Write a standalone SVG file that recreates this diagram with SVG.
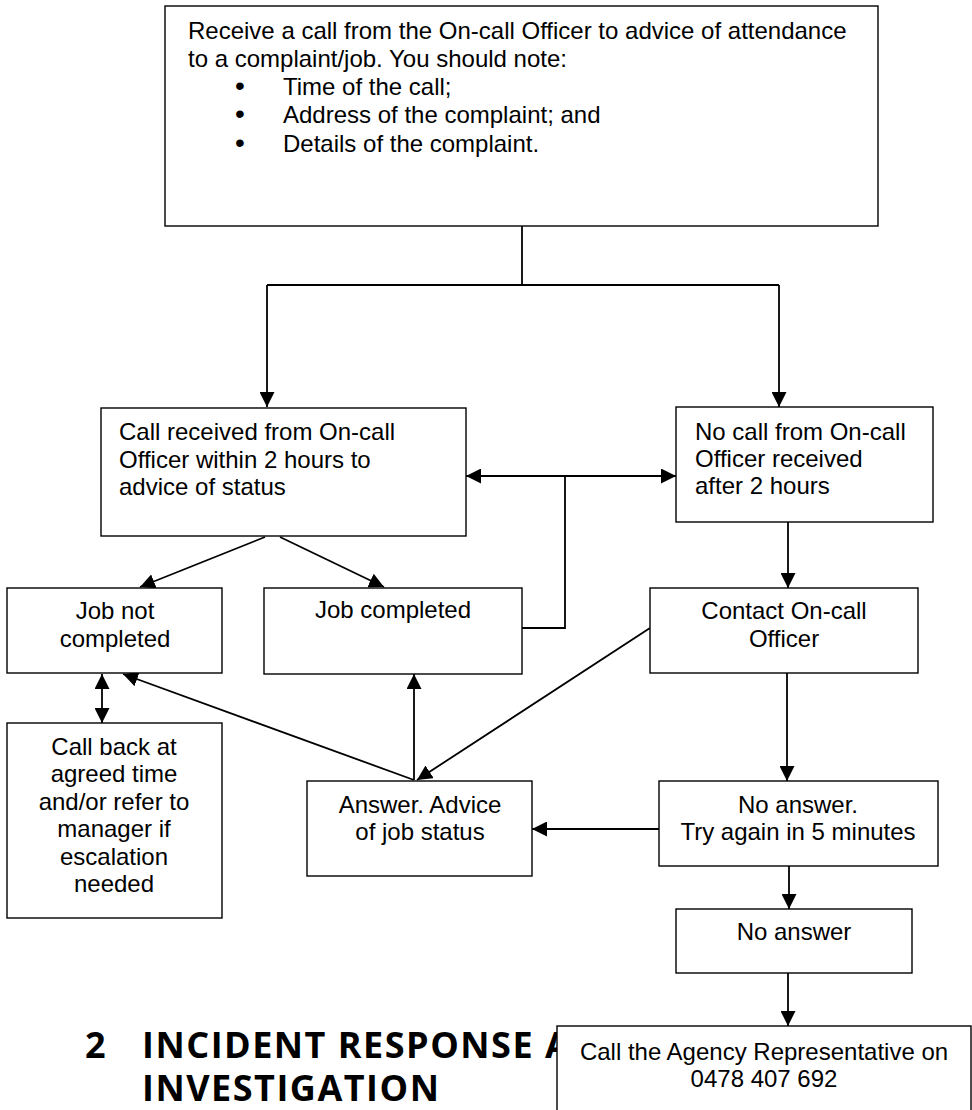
<svg xmlns="http://www.w3.org/2000/svg" width="972" height="1110" viewBox="0 0 972 1110">
<style>
.box{fill:#fff;stroke:#000;stroke-width:1.4}
.t{font-family:"Liberation Sans",Arial,sans-serif;font-size:24px;fill:#000}
.bu{font-size:28px}
.c{text-anchor:middle}
.ln{fill:none;stroke:#000;stroke-width:1.8}
.h{font-family:"Open Sans","Noto Sans",sans-serif;font-weight:700;font-size:36px;fill:#000;letter-spacing:1.5px}
</style>
<defs>
<marker id="ah" markerUnits="userSpaceOnUse" markerWidth="15" markerHeight="15" refX="15" refY="7.5" orient="auto-start-reverse">
<path d="M0,0 L15,7.5 L0,15 z" fill="#000"/>
</marker>
</defs>
<rect width="972" height="1110" fill="#fff"/>
<g id="heading">
<text class="h"><tspan x="85" y="1058">2</tspan><tspan x="142" y="1058">INCIDENT RESPONSE A</tspan><tspan x="142" y="1101">INVESTIGATION</tspan></text>
</g>
<g id="connectors">
<polyline class="ln" points="522,226 522,285"/>
<polyline class="ln" points="267,285 779,285"/>
<line class="ln" x1="267" y1="285" x2="267" y2="407" marker-end="url(#ah)"/>
<line class="ln" x1="779" y1="285" x2="779" y2="407" marker-end="url(#ah)"/>
<line class="ln" x1="265" y1="537" x2="140" y2="587" marker-end="url(#ah)"/>
<line class="ln" x1="280" y1="537" x2="384" y2="587" marker-end="url(#ah)"/>
<polyline class="ln" points="522,628 565,628 565,476"/>
<line class="ln" x1="466" y1="476" x2="676" y2="476" marker-start="url(#ah)" marker-end="url(#ah)"/>
<line class="ln" x1="788" y1="522" x2="788" y2="588" marker-end="url(#ah)"/>
<line class="ln" x1="787" y1="673" x2="787" y2="781" marker-end="url(#ah)"/>
<line class="ln" x1="650" y1="628" x2="417" y2="780" marker-end="url(#ah)"/>
<line class="ln" x1="414" y1="780" x2="414" y2="674" marker-end="url(#ah)"/>
<line class="ln" x1="414" y1="780" x2="123" y2="674" marker-end="url(#ah)"/>
<line class="ln" x1="102" y1="674" x2="102" y2="723" marker-start="url(#ah)" marker-end="url(#ah)"/>
<line class="ln" x1="659" y1="829" x2="532" y2="829" marker-end="url(#ah)"/>
<line class="ln" x1="789" y1="866" x2="789" y2="909" marker-end="url(#ah)"/>
<line class="ln" x1="788" y1="973" x2="788" y2="1026" marker-end="url(#ah)"/>
</g>
<g id="start">
<rect class="box" x="165" y="6" width="713" height="220"/>
<text class="t" x="188" y="39">Receive a call from the On-call Officer to advice of attendance</text>
<text class="t" x="188" y="67">to a complaint/job. You should note:</text>
<text class="t" y="95"><tspan class="bu" x="235">•</tspan><tspan x="283">Time of the call;</tspan></text>
<text class="t" y="123"><tspan class="bu" x="235">•</tspan><tspan x="283">Address of the complaint; and</tspan></text>
<text class="t" y="152"><tspan class="bu" x="235">•</tspan><tspan x="283">Details of the complaint.</tspan></text>
</g>
<g id="call-received">
<rect class="box" x="101" y="408" width="365" height="128"/>
<text class="t" x="119" y="440">Call received from On-call</text>
<text class="t" x="119" y="468">Officer within 2 hours to</text>
<text class="t" x="119" y="495">advice of status</text>
</g>
<g id="no-call">
<rect class="box" x="676" y="407" width="257" height="115"/>
<text class="t" x="695" y="440">No call from On-call</text>
<text class="t" x="695" y="467">Officer received</text>
<text class="t" x="695" y="494">after 2 hours</text>
</g>
<g id="job-not-completed">
<rect class="box" x="7" y="588" width="215" height="85"/>
<text class="t c" x="115" y="619">Job not</text>
<text class="t c" x="115" y="647">completed</text>
</g>
<g id="job-completed">
<rect class="box" x="264" y="588" width="258" height="86"/>
<text class="t c" x="393" y="618">Job completed</text>
</g>
<g id="contact">
<rect class="box" x="650" y="588" width="268" height="85"/>
<text class="t c" x="784" y="619">Contact On-call</text>
<text class="t c" x="784" y="647">Officer</text>
</g>
<g id="call-back">
<rect class="box" x="7" y="723" width="215" height="195"/>
<text class="t c" x="114" y="755">Call back at</text>
<text class="t c" x="114" y="782">agreed time</text>
<text class="t c" x="114" y="810">and/or refer to</text>
<text class="t c" x="114" y="837">manager if</text>
<text class="t c" x="114" y="865">escalation</text>
<text class="t c" x="114" y="892">needed</text>
</g>
<g id="answer">
<rect class="box" x="307" y="781" width="225" height="95"/>
<text class="t c" x="420" y="813">Answer. Advice</text>
<text class="t c" x="420" y="840">of job status</text>
</g>
<g id="no-answer-retry">
<rect class="box" x="659" y="781" width="279" height="85"/>
<text class="t c" x="798" y="813">No answer.</text>
<text class="t c" x="798" y="840">Try again in 5 minutes</text>
</g>
<g id="no-answer">
<rect class="box" x="676" y="909" width="236" height="64"/>
<text class="t c" x="794" y="940">No answer</text>
</g>
<g id="agency">
<rect class="box" x="557" y="1026" width="414" height="110"/>
<text class="t c" x="764" y="1060">Call the Agency Representative on</text>
<text class="t c" x="764" y="1087">0478 407 692</text>
</g>
</svg>
